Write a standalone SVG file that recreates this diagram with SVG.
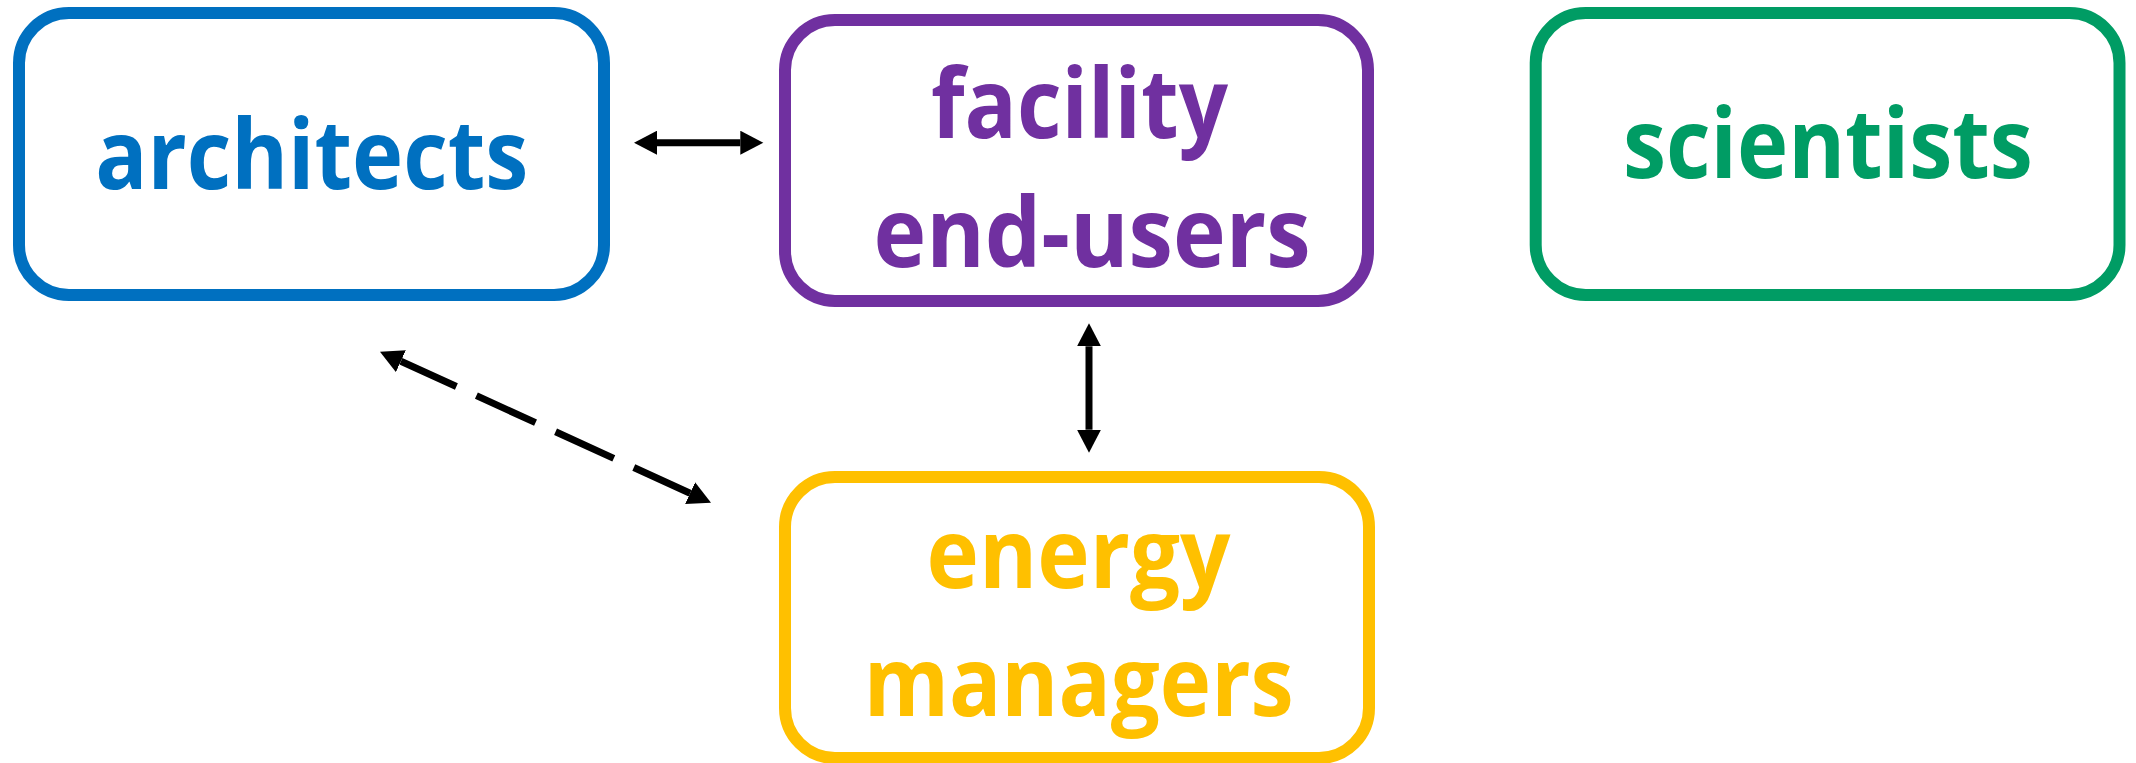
<svg xmlns="http://www.w3.org/2000/svg" width="2136" height="763" viewBox="0 0 2136 763">
<style>
.box{fill:#ffffff;stroke-width:12}
.lbl{font-family:"Open Sans","Noto Sans","DejaVu Sans",sans-serif;font-weight:700;font-size:96px;text-anchor:middle}
.conn{stroke:#000000;stroke-width:7;fill:none}
</style>
<defs>
<marker id="ah" markerUnits="userSpaceOnUse" markerWidth="24" markerHeight="24" refX="0" refY="12" orient="auto-start-reverse" viewBox="0 0 24 24">
<path d="M0,0 L23,12 L0,24 z" fill="#000000"/>
</marker>
</defs>
<rect width="2136" height="763" fill="#ffffff"/>
<g id="architects">
<rect class="box" x="19" y="13" width="585" height="282" rx="50" ry="50" stroke="#0070C0"/>
<text class="lbl" x="311.7" y="189.3" fill="#0070C0" textLength="433" lengthAdjust="spacingAndGlyphs">architects</text>
</g>
<g id="facility-end-users">
<rect class="box" x="785" y="20" width="583" height="281" rx="50" ry="50" stroke="#7030A0"/>
<text class="lbl" x="1079.5" y="138.3" fill="#7030A0" textLength="297" lengthAdjust="spacingAndGlyphs">facility</text>
<text class="lbl" x="1092" y="267.3" fill="#7030A0" textLength="437" lengthAdjust="spacingAndGlyphs">end-users</text>
</g>
<g id="scientists">
<rect class="box" x="1535.7" y="13" width="583.8" height="282" rx="50" ry="50" stroke="#009C64"/>
<text class="lbl" x="1827.9" y="178.3" fill="#009C64" textLength="410" lengthAdjust="spacingAndGlyphs">scientists</text>
</g>
<g id="energy-managers">
<rect class="box" x="785" y="477" width="584" height="281" rx="50" ry="50" stroke="#FFC000"/>
<text class="lbl" x="1078.5" y="588" fill="#FFC000" textLength="304" lengthAdjust="spacingAndGlyphs">energy</text>
<text class="lbl" x="1078.7" y="716.3" fill="#FFC000" textLength="430" lengthAdjust="spacingAndGlyphs">managers</text>
</g>
<g id="connectors">
<line class="conn" x1="657" y1="142.7" x2="740.3" y2="142.7" marker-start="url(#ah)" marker-end="url(#ah)"/>
<line class="conn" x1="1089" y1="346.3" x2="1089" y2="429.7" marker-start="url(#ah)" marker-end="url(#ah)"/>
<line class="conn" x1="400.9" y1="361.2" x2="690.1" y2="493.2" stroke-dasharray="61 22 65 22 64 22 70" marker-start="url(#ah)" marker-end="url(#ah)"/>
</g>
</svg>
